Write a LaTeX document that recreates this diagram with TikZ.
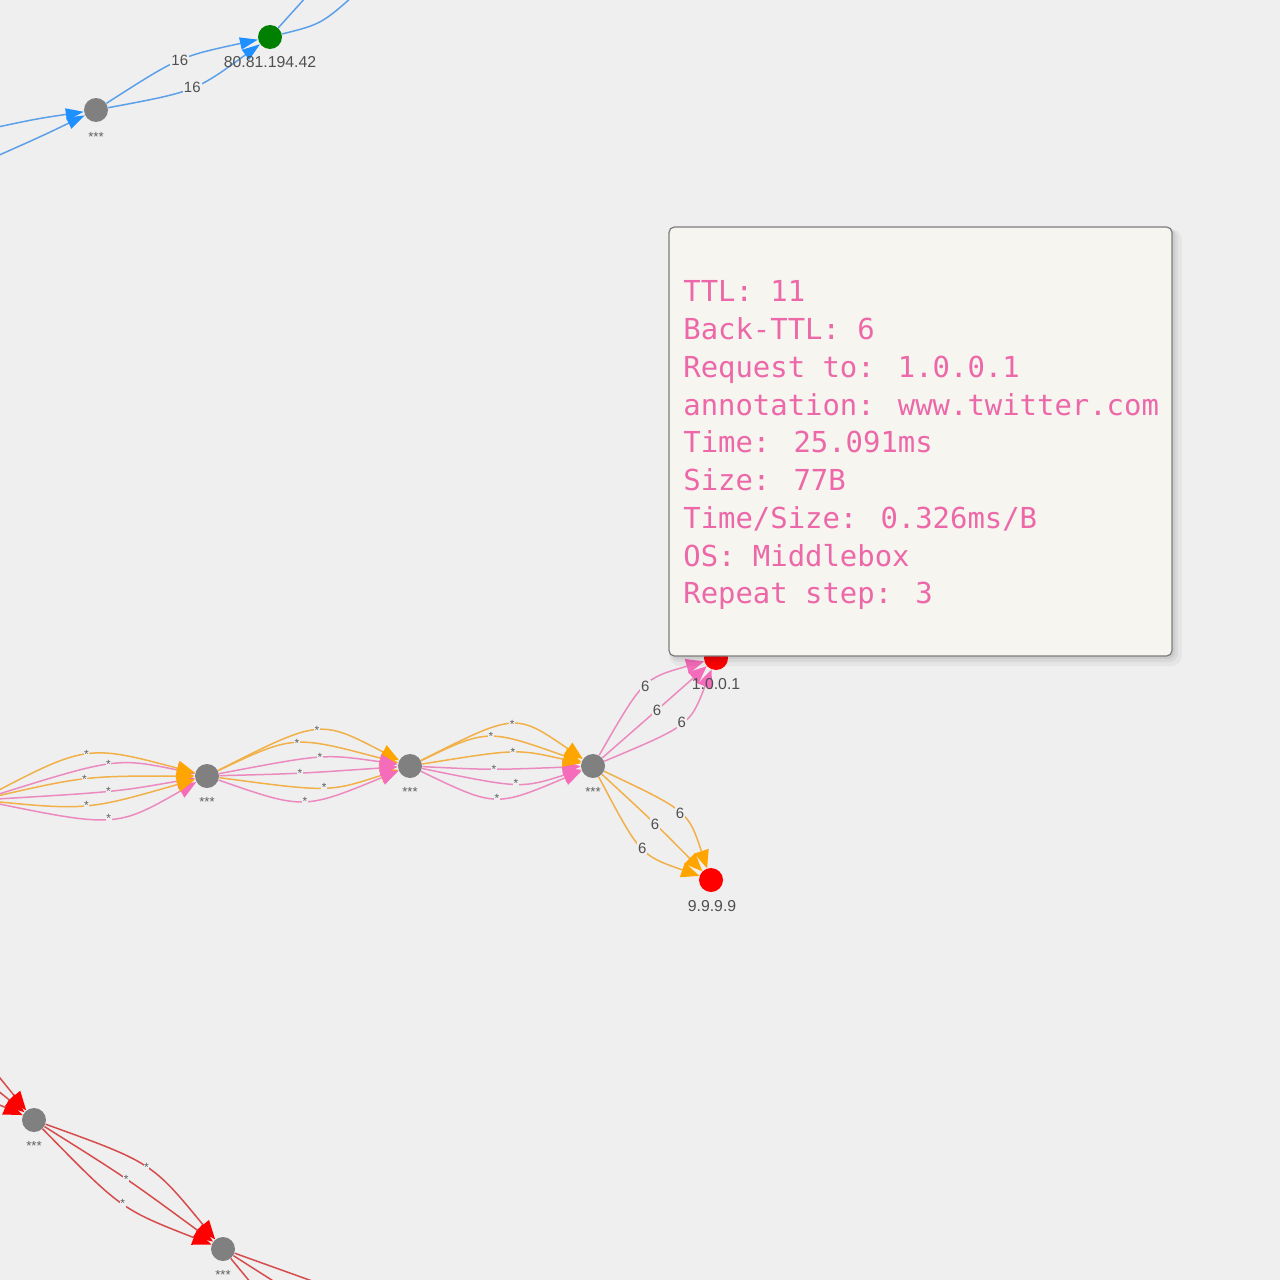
\documentclass[tikz,border=0pt]{standalone}
\usepackage{fontspec}
\setmainfont{Liberation Sans}
\newfontfamily\tipfont{DejaVu Sans Mono}
\usetikzlibrary{arrows.meta}
\definecolor{bgc}{RGB}{239,239,239}
\definecolor{tipfill}{RGB}{246,245,240}
\definecolor{tipborder}{RGB}{125,125,125}
\definecolor{tippink}{RGB}{236,104,168}
\definecolor{oline}{RGB}{241,176,72}
\definecolor{oarrow}{RGB}{255,165,0}
\definecolor{pline}{RGB}{236,138,192}
\definecolor{parrow}{RGB}{244,108,186}
\definecolor{bline}{RGB}{92,160,234}
\definecolor{barrow}{RGB}{30,144,255}
\definecolor{rline}{RGB}{214,76,76}
\definecolor{rarrow}{RGB}{255,0,0}
\definecolor{graynode}{RGB}{128,128,128}
\definecolor{greennode}{RGB}{0,128,0}
\definecolor{rednode}{RGB}{255,0,0}
\definecolor{labtxt}{RGB}{80,80,80}
\definecolor{startxt}{RGB}{95,95,95}
\begin{document}
\begin{tikzpicture}[x=0.02cm,y=-0.02cm,
  dotnode/.style={circle,inner sep=0pt,minimum size=0.48cm},
  gnode/.style={dotnode,fill=graynode},
  grnode/.style={dotnode,fill=greennode},
  rnode/.style={dotnode,fill=rednode},
  nlab/.style={inner sep=0pt,text=labtxt,font=\fontsize{9}{10}\selectfont},
  stars/.style={inner sep=0pt,text=startxt,font=\fontsize{7.5}{8}\selectfont},
  lstar/.style={inner sep=0.3pt,fill=bgc,text=startxt,font=\fontsize{6.8}{7}\selectfont},
  lnum/.style={inner sep=0.6pt,fill=bgc,text=labtxt,font=\fontsize{8.5}{9}\selectfont},
  edgebase/.style={line width=0.85pt},
  oedge/.style={edgebase,draw=oline,-{Triangle[length=0.36cm,width=0.3cm,color=oarrow]}},
  pedge/.style={edgebase,draw=pline,-{Triangle[length=0.36cm,width=0.3cm,color=parrow]}},
  bedge/.style={edgebase,draw=bline,-{Triangle[length=0.36cm,width=0.24cm,color=barrow]}},
  bline/.style={edgebase,draw=bline},
  redge/.style={edgebase,draw=rline,-{Triangle[length=0.38cm,width=0.3cm,color=rarrow]}},
  rplain/.style={edgebase,draw=rline},
  tipbox/.style={draw=tipborder,line width=0.7pt,fill=tipfill,rounded corners=3pt,inner sep=0pt,
    minimum width=10.06cm,minimum height=8.58cm},
  tiptext/.style={anchor=base west,inner sep=0pt,text=tippink,font=\tipfont\fontsize{16.45}{20}\selectfont}
]
\fill[bgc] (0,0) rectangle (1280,1280);
\useasboundingbox (0,0) rectangle (1280,1280);
\clip (0,0) rectangle (1280,1280);

% ---------- nodes ----------
\node[gnode] (g1) at (96,110) {};
\node[grnode] (gr) at (270,37) {};
\node[gnode] (na) at (207,776) {};
\node[gnode] (nb) at (410,766) {};
\node[gnode] (nc) at (593,766) {};
\node[rnode] (r1) at (716,658) {};
\node[rnode] (r2) at (711,880) {};
\node[gnode] (nd) at (34,1120) {};
\node[gnode] (ne) at (223,1249) {};

% off-canvas ends
\coordinate (bl1) at (-30,133);
\coordinate (bl2) at (-30,168);
\coordinate (bu1) at (316,-14);
\coordinate (bu2) at (362,-12);
\coordinate (l0) at (-20,800);
\coordinate (d1) at (-30,1041);
\coordinate (d2) at (-30,1068);
\coordinate (d3) at (-30,1092);
\coordinate (e1) at (340,1291);
\coordinate (e2) at (300,1298);
\coordinate (e3) at (265,1300);

% ---------- blue edges ----------
\draw[bedge] (bl1) .. controls (35,119) .. (g1);
\draw[bedge] (bl2) .. controls (40,137) .. (g1);
\draw[bedge] (g1) .. controls (179,56.8) .. node[lnum]{16} (gr);
\draw[bedge] (g1) .. controls (195,91.5) .. node[lnum]{16} (gr);
\draw[bline] (gr) -- (bu1);
\draw[bline] (gr) .. controls (322,24) .. (bu2);

% ---------- left group into A ----------
\draw[pedge] (l0) .. controls (115.5,757.3) .. node[lstar]{*} (na);
\draw[pedge] (l0) .. controls (115.5,792.0) .. node[lstar]{*} (na);
\draw[pedge] (l0) .. controls (115.5,828.0) .. node[lstar]{*} (na);
\draw[oedge] (l0) .. controls (86.2,744.0) .. node[lstar]{*} (na);
\draw[oedge] (l0) .. controls (83.5,776.0) .. node[lstar]{*} (na);
\draw[oedge] (l0) .. controls (86.2,810.7) .. node[lstar]{*} (na);

% ---------- A to B ----------
\draw[oedge] (na) .. controls (319.8,719) .. node[lstar]{*} (nb);
\draw[oedge] (na) .. controls (293.2,735) .. node[lstar]{*} (nb);
\draw[oedge] (na) .. controls (329.2,792.3) .. node[lstar]{*} (nb);
\draw[pedge] (na) .. controls (323.8,753.7) .. node[lstar]{*} (nb);
\draw[pedge] (na) .. controls (297.2,773.7) .. node[lstar]{*} (nb);
\draw[pedge] (na) .. controls (303.8,809.7) .. node[lstar]{*} (nb);

% ---------- B to C ----------
\draw[pedge] (nb) .. controls (491.5,770) .. node[lstar]{*} (nc);
\draw[pedge] (nb) .. controls (520.8,788.7) .. node[lstar]{*} (nc);
\draw[pedge] (nb) .. controls (495.5,807.3) .. node[lstar]{*} (nc);
\draw[oedge] (nb) .. controls (515.5,712.7) .. node[lstar]{*} (nc);
\draw[oedge] (nb) .. controls (487.5,728.7) .. node[lstar]{*} (nc);
\draw[oedge] (nb) .. controls (516.8,748.7) .. node[lstar]{*} (nc);

% ---------- C to 1.0.0.1 ----------
\draw[pedge] (nc) .. controls (643.2,678.7) .. node[lnum]{6} (r1);
\draw[pedge] (nc) .. controls (657.8,709.3) .. node[lnum]{6} (r1);
\draw[pedge] (nc) .. controls (689.8,725.3) .. node[lnum]{6} (r1);

% ---------- C to 9.9.9.9 ----------
\draw[oedge] (nc) .. controls (688,811) .. node[lnum]{6} (r2);
\draw[oedge] (nc) .. controls (656,824.3) .. node[lnum]{6} (r2);
\draw[oedge] (nc) .. controls (640,855) .. node[lnum]{6} (r2);

% ---------- red bottom ----------
\draw[redge] (d1) -- (nd);
\draw[redge] (d2) -- (nd);
\draw[redge] (d3) -- (nd);
\draw[redge] (nd) .. controls (151.8,1162.5) .. node[lstar]{*} (ne);
\draw[redge] (nd) .. controls (125.2,1177.2) .. node[lstar]{*} (ne);
\draw[redge] (nd) .. controls (121.2,1209.2) .. node[lstar]{*} (ne);
\draw[rplain] (ne) -- (e1);
\draw[rplain] (ne) -- (e2);
\draw[rplain] (ne) -- (e3);

% ---------- node labels ----------
\node[nlab] (grl) at (270,62) {80.81.194.42};
\node[stars] (g1l) at (96,137) {***};
\node[stars] (nal) at (207,802) {***};
\node[stars] (nbl) at (410,792) {***};
\node[stars] (ncl) at (593,792) {***};
\node[nlab] (r1l) at (716,684) {1.0.0.1};
\node[nlab] (r2l) at (712,906) {9.9.9.9};
\node[stars] (ndl) at (34,1146) {***};
\node[stars] (nel) at (223,1275) {***};

% ---------- tooltip ----------
\fill[black,opacity=0.04,rounded corners=6pt] (669,229) rectangle (1182,666);
\fill[black,opacity=0.05,rounded corners=5pt] (670,229) rectangle (1178,662);
\fill[black,opacity=0.06,rounded corners=4pt] (671,229) rectangle (1175,659);
\node[tipbox] (tip) at (920.5,441.5) {};
\node[tiptext] (t1) at (683,301.7) {TTL: 11};
\node[tiptext] (t2) at (683,339.5) {Back-TTL: 6};
\node[tiptext] (t3) at (683,377.2) {Request to: 1.0.0.1};
\node[tiptext] (t4) at (683,415.0) {annotation: www.twitter.com};
\node[tiptext] (t5) at (683,452.7) {Time: 25.091ms};
\node[tiptext] (t6) at (683,490.5) {Size: 77B};
\node[tiptext] (t7) at (683,528.2) {Time/Size: 0.326ms/B};
\node[tiptext] (t8) at (683,566.0) {OS: Middlebox};
\node[tiptext] (t9) at (683,603.7) {Repeat step: 3};
\end{tikzpicture}
\end{document}
